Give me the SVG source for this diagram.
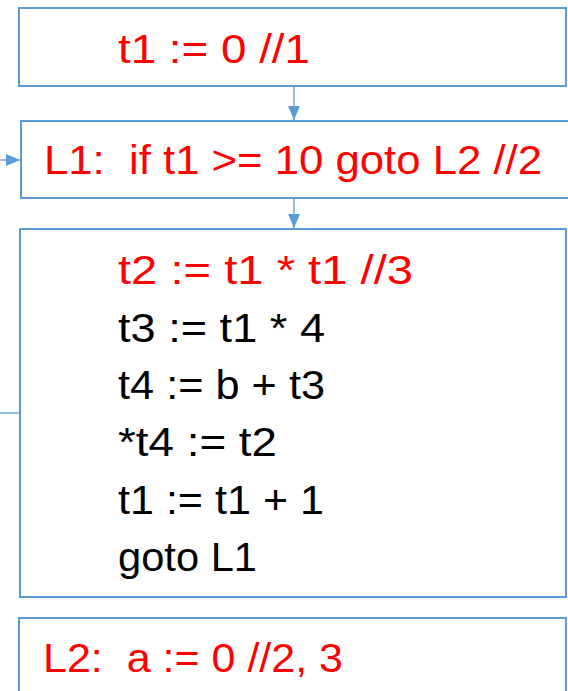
<svg xmlns="http://www.w3.org/2000/svg" width="568" height="691" viewBox="0 0 568 691">
<defs>
<style>
.box{fill:#fff;stroke:#5B9BD5;stroke-width:2}
.conn{fill:none;stroke:#5B9BD5;stroke-width:1.3}
text{font-family:"Liberation Sans",Arial,sans-serif;font-size:41px;white-space:pre}
.red{fill:#FF0000}
.blk{fill:#000}
</style>
<marker id="ah" viewBox="0 0 14 12" refX="14" refY="6" markerWidth="14" markerHeight="12" markerUnits="userSpaceOnUse" orient="auto">
<path d="M0,0 L14,6 L0,12 Z" fill="#5B9BD5"/>
</marker>
</defs>
<rect width="568" height="691" fill="#fff"/>
<g id="n1">
<rect class="box" x="19" y="8" width="547" height="78"/>
<text class="red" x="118" y="63" textLength="192" lengthAdjust="spacingAndGlyphs">t1 := 0 //1</text>
</g>
<g id="n2">
<rect class="box" x="21" y="121" width="549" height="77"/>
<text class="red" x="44" y="174" textLength="498" lengthAdjust="spacingAndGlyphs" xml:space="preserve">L1:  if t1 &gt;= 10 goto L2 //2</text>
</g>
<g id="n3">
<rect class="box" x="20" y="229" width="546" height="368"/>
<text class="red" x="118" y="284" textLength="295" lengthAdjust="spacingAndGlyphs">t2 := t1 * t1 //3</text>
<text class="blk" x="118" y="342" textLength="207" lengthAdjust="spacingAndGlyphs">t3 := t1 * 4</text>
<text class="blk" x="118" y="399" textLength="207" lengthAdjust="spacingAndGlyphs">t4 := b + t3</text>
<text class="blk" x="118" y="456" textLength="159" lengthAdjust="spacingAndGlyphs">*t4 := t2</text>
<text class="blk" x="118" y="514" textLength="206" lengthAdjust="spacingAndGlyphs">t1 := t1 + 1</text>
<text class="blk" x="118" y="571" textLength="139" lengthAdjust="spacingAndGlyphs">goto L1</text>
</g>
<g id="n4">
<rect class="box" x="19" y="618" width="547" height="80"/>
<text class="red" x="43" y="672" textLength="300" lengthAdjust="spacingAndGlyphs" xml:space="preserve">L2:  a := 0 //2, 3</text>
</g>
<g id="connectors">
<line class="conn" x1="294" y1="86" x2="294" y2="120" marker-end="url(#ah)"/>
<line class="conn" x1="294" y1="198" x2="294" y2="228" marker-end="url(#ah)"/>
<line class="conn" x1="0" y1="413" x2="20" y2="413"/>
<line class="conn" x1="0" y1="160" x2="20" y2="160" marker-end="url(#ah)"/>
</g>
</svg>
